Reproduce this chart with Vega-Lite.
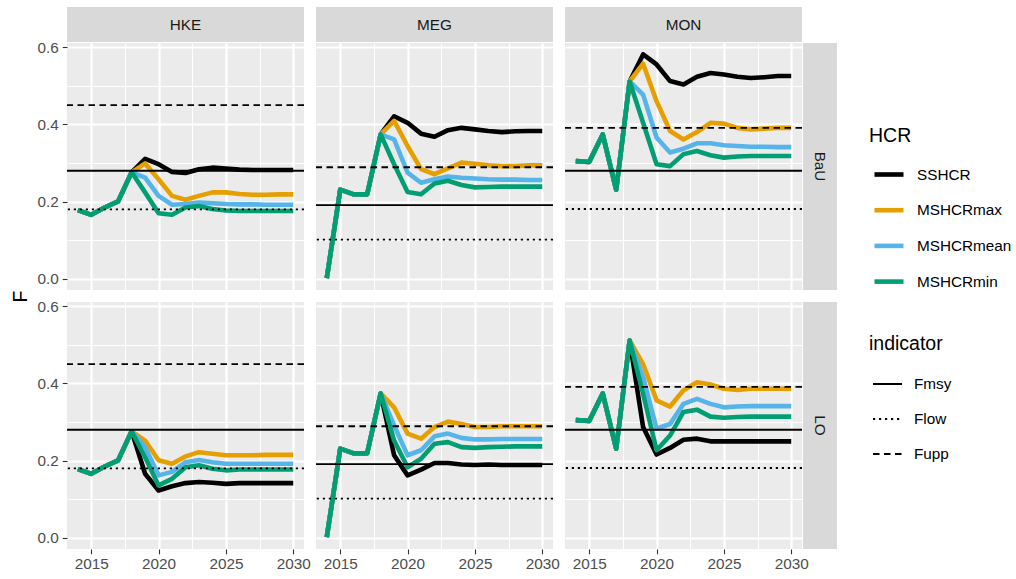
{
  "$schema": "https://vega.github.io/schema/vega-lite/v6.json",
  "background": "white",
  "padding": {"left": 10, "top": 7, "right": 5, "bottom": 2},
  "config": {
    "font": "Liberation Sans",
    "view": {"stroke": null},
    "legend": {
      "titleFontSize": 19.5, "titleFontWeight": "normal", "titleColor": "black", "titleFont": "Liberation Sans",
      "labelFontSize": 15.3, "labelColor": "black", "labelFont": "Liberation Sans",
      "labelOffset": 11, "titlePadding": 11, "symbolOffset": 3, "padding": 0
    }
  },
  "datasets": {
    "refs": [
      {"stock": "HKE", "indicator": "Fmsy", "F": 0.28},
      {"stock": "HKE", "indicator": "Flow", "F": 0.18},
      {"stock": "HKE", "indicator": "Fupp", "F": 0.45},
      {"stock": "MEG", "indicator": "Fmsy", "F": 0.191},
      {"stock": "MEG", "indicator": "Flow", "F": 0.102},
      {"stock": "MEG", "indicator": "Fupp", "F": 0.289},
      {"stock": "MON", "indicator": "Fmsy", "F": 0.28},
      {"stock": "MON", "indicator": "Flow", "F": 0.181},
      {"stock": "MON", "indicator": "Fupp", "F": 0.391}
    ],
    "series": [
      {"stock":"HKE","scen":"BaU","HCR":"SSHCR","year":2014,"F":0.178},
      {"stock":"HKE","scen":"BaU","HCR":"SSHCR","year":2015,"F":0.166},
      {"stock":"HKE","scen":"BaU","HCR":"SSHCR","year":2016,"F":0.185},
      {"stock":"HKE","scen":"BaU","HCR":"SSHCR","year":2017,"F":0.201},
      {"stock":"HKE","scen":"BaU","HCR":"SSHCR","year":2018,"F":0.276},
      {"stock":"HKE","scen":"BaU","HCR":"SSHCR","year":2019,"F":0.311},
      {"stock":"HKE","scen":"BaU","HCR":"SSHCR","year":2020,"F":0.297},
      {"stock":"HKE","scen":"BaU","HCR":"SSHCR","year":2021,"F":0.277},
      {"stock":"HKE","scen":"BaU","HCR":"SSHCR","year":2022,"F":0.274},
      {"stock":"HKE","scen":"BaU","HCR":"SSHCR","year":2023,"F":0.284},
      {"stock":"HKE","scen":"BaU","HCR":"SSHCR","year":2024,"F":0.288},
      {"stock":"HKE","scen":"BaU","HCR":"SSHCR","year":2025,"F":0.286},
      {"stock":"HKE","scen":"BaU","HCR":"SSHCR","year":2026,"F":0.283},
      {"stock":"HKE","scen":"BaU","HCR":"SSHCR","year":2027,"F":0.282},
      {"stock":"HKE","scen":"BaU","HCR":"SSHCR","year":2028,"F":0.282},
      {"stock":"HKE","scen":"BaU","HCR":"SSHCR","year":2029,"F":0.282},
      {"stock":"HKE","scen":"BaU","HCR":"SSHCR","year":2030,"F":0.282},
      {"stock":"HKE","scen":"BaU","HCR":"MSHCRmax","year":2014,"F":0.178},
      {"stock":"HKE","scen":"BaU","HCR":"MSHCRmax","year":2015,"F":0.166},
      {"stock":"HKE","scen":"BaU","HCR":"MSHCRmax","year":2016,"F":0.185},
      {"stock":"HKE","scen":"BaU","HCR":"MSHCRmax","year":2017,"F":0.201},
      {"stock":"HKE","scen":"BaU","HCR":"MSHCRmax","year":2018,"F":0.276},
      {"stock":"HKE","scen":"BaU","HCR":"MSHCRmax","year":2019,"F":0.299},
      {"stock":"HKE","scen":"BaU","HCR":"MSHCRmax","year":2020,"F":0.258},
      {"stock":"HKE","scen":"BaU","HCR":"MSHCRmax","year":2021,"F":0.215},
      {"stock":"HKE","scen":"BaU","HCR":"MSHCRmax","year":2022,"F":0.205},
      {"stock":"HKE","scen":"BaU","HCR":"MSHCRmax","year":2023,"F":0.215},
      {"stock":"HKE","scen":"BaU","HCR":"MSHCRmax","year":2024,"F":0.224},
      {"stock":"HKE","scen":"BaU","HCR":"MSHCRmax","year":2025,"F":0.224},
      {"stock":"HKE","scen":"BaU","HCR":"MSHCRmax","year":2026,"F":0.220},
      {"stock":"HKE","scen":"BaU","HCR":"MSHCRmax","year":2027,"F":0.218},
      {"stock":"HKE","scen":"BaU","HCR":"MSHCRmax","year":2028,"F":0.218},
      {"stock":"HKE","scen":"BaU","HCR":"MSHCRmax","year":2029,"F":0.219},
      {"stock":"HKE","scen":"BaU","HCR":"MSHCRmax","year":2030,"F":0.219},
      {"stock":"HKE","scen":"BaU","HCR":"MSHCRmean","year":2014,"F":0.178},
      {"stock":"HKE","scen":"BaU","HCR":"MSHCRmean","year":2015,"F":0.166},
      {"stock":"HKE","scen":"BaU","HCR":"MSHCRmean","year":2016,"F":0.185},
      {"stock":"HKE","scen":"BaU","HCR":"MSHCRmean","year":2017,"F":0.201},
      {"stock":"HKE","scen":"BaU","HCR":"MSHCRmean","year":2018,"F":0.276},
      {"stock":"HKE","scen":"BaU","HCR":"MSHCRmean","year":2019,"F":0.262},
      {"stock":"HKE","scen":"BaU","HCR":"MSHCRmean","year":2020,"F":0.215},
      {"stock":"HKE","scen":"BaU","HCR":"MSHCRmean","year":2021,"F":0.192},
      {"stock":"HKE","scen":"BaU","HCR":"MSHCRmean","year":2022,"F":0.194},
      {"stock":"HKE","scen":"BaU","HCR":"MSHCRmean","year":2023,"F":0.198},
      {"stock":"HKE","scen":"BaU","HCR":"MSHCRmean","year":2024,"F":0.196},
      {"stock":"HKE","scen":"BaU","HCR":"MSHCRmean","year":2025,"F":0.194},
      {"stock":"HKE","scen":"BaU","HCR":"MSHCRmean","year":2026,"F":0.193},
      {"stock":"HKE","scen":"BaU","HCR":"MSHCRmean","year":2027,"F":0.193},
      {"stock":"HKE","scen":"BaU","HCR":"MSHCRmean","year":2028,"F":0.192},
      {"stock":"HKE","scen":"BaU","HCR":"MSHCRmean","year":2029,"F":0.192},
      {"stock":"HKE","scen":"BaU","HCR":"MSHCRmean","year":2030,"F":0.192},
      {"stock":"HKE","scen":"BaU","HCR":"MSHCRmin","year":2014,"F":0.178},
      {"stock":"HKE","scen":"BaU","HCR":"MSHCRmin","year":2015,"F":0.166},
      {"stock":"HKE","scen":"BaU","HCR":"MSHCRmin","year":2016,"F":0.185},
      {"stock":"HKE","scen":"BaU","HCR":"MSHCRmin","year":2017,"F":0.201},
      {"stock":"HKE","scen":"BaU","HCR":"MSHCRmin","year":2018,"F":0.276},
      {"stock":"HKE","scen":"BaU","HCR":"MSHCRmin","year":2019,"F":0.224},
      {"stock":"HKE","scen":"BaU","HCR":"MSHCRmin","year":2020,"F":0.170},
      {"stock":"HKE","scen":"BaU","HCR":"MSHCRmin","year":2021,"F":0.166},
      {"stock":"HKE","scen":"BaU","HCR":"MSHCRmin","year":2022,"F":0.185},
      {"stock":"HKE","scen":"BaU","HCR":"MSHCRmin","year":2023,"F":0.189},
      {"stock":"HKE","scen":"BaU","HCR":"MSHCRmin","year":2024,"F":0.181},
      {"stock":"HKE","scen":"BaU","HCR":"MSHCRmin","year":2025,"F":0.177},
      {"stock":"HKE","scen":"BaU","HCR":"MSHCRmin","year":2026,"F":0.176},
      {"stock":"HKE","scen":"BaU","HCR":"MSHCRmin","year":2027,"F":0.176},
      {"stock":"HKE","scen":"BaU","HCR":"MSHCRmin","year":2028,"F":0.176},
      {"stock":"HKE","scen":"BaU","HCR":"MSHCRmin","year":2029,"F":0.176},
      {"stock":"HKE","scen":"BaU","HCR":"MSHCRmin","year":2030,"F":0.176},

      {"stock":"MEG","scen":"BaU","HCR":"SSHCR","year":2014,"F":0.002},
      {"stock":"MEG","scen":"BaU","HCR":"SSHCR","year":2015,"F":0.231},
      {"stock":"MEG","scen":"BaU","HCR":"SSHCR","year":2016,"F":0.219},
      {"stock":"MEG","scen":"BaU","HCR":"SSHCR","year":2017,"F":0.219},
      {"stock":"MEG","scen":"BaU","HCR":"SSHCR","year":2018,"F":0.374},
      {"stock":"MEG","scen":"BaU","HCR":"SSHCR","year":2019,"F":0.421},
      {"stock":"MEG","scen":"BaU","HCR":"SSHCR","year":2020,"F":0.404},
      {"stock":"MEG","scen":"BaU","HCR":"SSHCR","year":2021,"F":0.376},
      {"stock":"MEG","scen":"BaU","HCR":"SSHCR","year":2022,"F":0.368},
      {"stock":"MEG","scen":"BaU","HCR":"SSHCR","year":2023,"F":0.385},
      {"stock":"MEG","scen":"BaU","HCR":"SSHCR","year":2024,"F":0.391},
      {"stock":"MEG","scen":"BaU","HCR":"SSHCR","year":2025,"F":0.387},
      {"stock":"MEG","scen":"BaU","HCR":"SSHCR","year":2026,"F":0.383},
      {"stock":"MEG","scen":"BaU","HCR":"SSHCR","year":2027,"F":0.380},
      {"stock":"MEG","scen":"BaU","HCR":"SSHCR","year":2028,"F":0.382},
      {"stock":"MEG","scen":"BaU","HCR":"SSHCR","year":2029,"F":0.383},
      {"stock":"MEG","scen":"BaU","HCR":"SSHCR","year":2030,"F":0.383},
      {"stock":"MEG","scen":"BaU","HCR":"MSHCRmax","year":2014,"F":0.002},
      {"stock":"MEG","scen":"BaU","HCR":"MSHCRmax","year":2015,"F":0.231},
      {"stock":"MEG","scen":"BaU","HCR":"MSHCRmax","year":2016,"F":0.219},
      {"stock":"MEG","scen":"BaU","HCR":"MSHCRmax","year":2017,"F":0.219},
      {"stock":"MEG","scen":"BaU","HCR":"MSHCRmax","year":2018,"F":0.374},
      {"stock":"MEG","scen":"BaU","HCR":"MSHCRmax","year":2019,"F":0.409},
      {"stock":"MEG","scen":"BaU","HCR":"MSHCRmax","year":2020,"F":0.344},
      {"stock":"MEG","scen":"BaU","HCR":"MSHCRmax","year":2021,"F":0.284},
      {"stock":"MEG","scen":"BaU","HCR":"MSHCRmax","year":2022,"F":0.271},
      {"stock":"MEG","scen":"BaU","HCR":"MSHCRmax","year":2023,"F":0.286},
      {"stock":"MEG","scen":"BaU","HCR":"MSHCRmax","year":2024,"F":0.301},
      {"stock":"MEG","scen":"BaU","HCR":"MSHCRmax","year":2025,"F":0.298},
      {"stock":"MEG","scen":"BaU","HCR":"MSHCRmax","year":2026,"F":0.294},
      {"stock":"MEG","scen":"BaU","HCR":"MSHCRmax","year":2027,"F":0.292},
      {"stock":"MEG","scen":"BaU","HCR":"MSHCRmax","year":2028,"F":0.292},
      {"stock":"MEG","scen":"BaU","HCR":"MSHCRmax","year":2029,"F":0.294},
      {"stock":"MEG","scen":"BaU","HCR":"MSHCRmax","year":2030,"F":0.294},
      {"stock":"MEG","scen":"BaU","HCR":"MSHCRmean","year":2014,"F":0.002},
      {"stock":"MEG","scen":"BaU","HCR":"MSHCRmean","year":2015,"F":0.231},
      {"stock":"MEG","scen":"BaU","HCR":"MSHCRmean","year":2016,"F":0.219},
      {"stock":"MEG","scen":"BaU","HCR":"MSHCRmean","year":2017,"F":0.219},
      {"stock":"MEG","scen":"BaU","HCR":"MSHCRmean","year":2018,"F":0.374},
      {"stock":"MEG","scen":"BaU","HCR":"MSHCRmean","year":2019,"F":0.361},
      {"stock":"MEG","scen":"BaU","HCR":"MSHCRmean","year":2020,"F":0.275},
      {"stock":"MEG","scen":"BaU","HCR":"MSHCRmean","year":2021,"F":0.249},
      {"stock":"MEG","scen":"BaU","HCR":"MSHCRmean","year":2022,"F":0.258},
      {"stock":"MEG","scen":"BaU","HCR":"MSHCRmean","year":2023,"F":0.265},
      {"stock":"MEG","scen":"BaU","HCR":"MSHCRmean","year":2024,"F":0.262},
      {"stock":"MEG","scen":"BaU","HCR":"MSHCRmean","year":2025,"F":0.260},
      {"stock":"MEG","scen":"BaU","HCR":"MSHCRmean","year":2026,"F":0.258},
      {"stock":"MEG","scen":"BaU","HCR":"MSHCRmean","year":2027,"F":0.257},
      {"stock":"MEG","scen":"BaU","HCR":"MSHCRmean","year":2028,"F":0.257},
      {"stock":"MEG","scen":"BaU","HCR":"MSHCRmean","year":2029,"F":0.256},
      {"stock":"MEG","scen":"BaU","HCR":"MSHCRmean","year":2030,"F":0.256},
      {"stock":"MEG","scen":"BaU","HCR":"MSHCRmin","year":2014,"F":0.002},
      {"stock":"MEG","scen":"BaU","HCR":"MSHCRmin","year":2015,"F":0.231},
      {"stock":"MEG","scen":"BaU","HCR":"MSHCRmin","year":2016,"F":0.219},
      {"stock":"MEG","scen":"BaU","HCR":"MSHCRmin","year":2017,"F":0.219},
      {"stock":"MEG","scen":"BaU","HCR":"MSHCRmin","year":2018,"F":0.374},
      {"stock":"MEG","scen":"BaU","HCR":"MSHCRmin","year":2019,"F":0.297},
      {"stock":"MEG","scen":"BaU","HCR":"MSHCRmin","year":2020,"F":0.225},
      {"stock":"MEG","scen":"BaU","HCR":"MSHCRmin","year":2021,"F":0.219},
      {"stock":"MEG","scen":"BaU","HCR":"MSHCRmin","year":2022,"F":0.247},
      {"stock":"MEG","scen":"BaU","HCR":"MSHCRmin","year":2023,"F":0.254},
      {"stock":"MEG","scen":"BaU","HCR":"MSHCRmin","year":2024,"F":0.243},
      {"stock":"MEG","scen":"BaU","HCR":"MSHCRmin","year":2025,"F":0.237},
      {"stock":"MEG","scen":"BaU","HCR":"MSHCRmin","year":2026,"F":0.238},
      {"stock":"MEG","scen":"BaU","HCR":"MSHCRmin","year":2027,"F":0.239},
      {"stock":"MEG","scen":"BaU","HCR":"MSHCRmin","year":2028,"F":0.239},
      {"stock":"MEG","scen":"BaU","HCR":"MSHCRmin","year":2029,"F":0.239},
      {"stock":"MEG","scen":"BaU","HCR":"MSHCRmin","year":2030,"F":0.239},

      {"stock":"MON","scen":"BaU","HCR":"SSHCR","year":2014,"F":0.305},
      {"stock":"MON","scen":"BaU","HCR":"SSHCR","year":2015,"F":0.303},
      {"stock":"MON","scen":"BaU","HCR":"SSHCR","year":2016,"F":0.374},
      {"stock":"MON","scen":"BaU","HCR":"SSHCR","year":2017,"F":0.231},
      {"stock":"MON","scen":"BaU","HCR":"SSHCR","year":2018,"F":0.511},
      {"stock":"MON","scen":"BaU","HCR":"SSHCR","year":2019,"F":0.581},
      {"stock":"MON","scen":"BaU","HCR":"SSHCR","year":2020,"F":0.555},
      {"stock":"MON","scen":"BaU","HCR":"SSHCR","year":2021,"F":0.512},
      {"stock":"MON","scen":"BaU","HCR":"SSHCR","year":2022,"F":0.503},
      {"stock":"MON","scen":"BaU","HCR":"SSHCR","year":2023,"F":0.523},
      {"stock":"MON","scen":"BaU","HCR":"SSHCR","year":2024,"F":0.533},
      {"stock":"MON","scen":"BaU","HCR":"SSHCR","year":2025,"F":0.529},
      {"stock":"MON","scen":"BaU","HCR":"SSHCR","year":2026,"F":0.523},
      {"stock":"MON","scen":"BaU","HCR":"SSHCR","year":2027,"F":0.520},
      {"stock":"MON","scen":"BaU","HCR":"SSHCR","year":2028,"F":0.522},
      {"stock":"MON","scen":"BaU","HCR":"SSHCR","year":2029,"F":0.525},
      {"stock":"MON","scen":"BaU","HCR":"SSHCR","year":2030,"F":0.525},
      {"stock":"MON","scen":"BaU","HCR":"MSHCRmax","year":2014,"F":0.305},
      {"stock":"MON","scen":"BaU","HCR":"MSHCRmax","year":2015,"F":0.303},
      {"stock":"MON","scen":"BaU","HCR":"MSHCRmax","year":2016,"F":0.374},
      {"stock":"MON","scen":"BaU","HCR":"MSHCRmax","year":2017,"F":0.231},
      {"stock":"MON","scen":"BaU","HCR":"MSHCRmax","year":2018,"F":0.511},
      {"stock":"MON","scen":"BaU","HCR":"MSHCRmax","year":2019,"F":0.557},
      {"stock":"MON","scen":"BaU","HCR":"MSHCRmax","year":2020,"F":0.460},
      {"stock":"MON","scen":"BaU","HCR":"MSHCRmax","year":2021,"F":0.383},
      {"stock":"MON","scen":"BaU","HCR":"MSHCRmax","year":2022,"F":0.361},
      {"stock":"MON","scen":"BaU","HCR":"MSHCRmax","year":2023,"F":0.380},
      {"stock":"MON","scen":"BaU","HCR":"MSHCRmax","year":2024,"F":0.404},
      {"stock":"MON","scen":"BaU","HCR":"MSHCRmax","year":2025,"F":0.402},
      {"stock":"MON","scen":"BaU","HCR":"MSHCRmax","year":2026,"F":0.391},
      {"stock":"MON","scen":"BaU","HCR":"MSHCRmax","year":2027,"F":0.387},
      {"stock":"MON","scen":"BaU","HCR":"MSHCRmax","year":2028,"F":0.389},
      {"stock":"MON","scen":"BaU","HCR":"MSHCRmax","year":2029,"F":0.391},
      {"stock":"MON","scen":"BaU","HCR":"MSHCRmax","year":2030,"F":0.391},
      {"stock":"MON","scen":"BaU","HCR":"MSHCRmean","year":2014,"F":0.305},
      {"stock":"MON","scen":"BaU","HCR":"MSHCRmean","year":2015,"F":0.303},
      {"stock":"MON","scen":"BaU","HCR":"MSHCRmean","year":2016,"F":0.374},
      {"stock":"MON","scen":"BaU","HCR":"MSHCRmean","year":2017,"F":0.231},
      {"stock":"MON","scen":"BaU","HCR":"MSHCRmean","year":2018,"F":0.511},
      {"stock":"MON","scen":"BaU","HCR":"MSHCRmean","year":2019,"F":0.477},
      {"stock":"MON","scen":"BaU","HCR":"MSHCRmean","year":2020,"F":0.366},
      {"stock":"MON","scen":"BaU","HCR":"MSHCRmean","year":2021,"F":0.327},
      {"stock":"MON","scen":"BaU","HCR":"MSHCRmean","year":2022,"F":0.337},
      {"stock":"MON","scen":"BaU","HCR":"MSHCRmean","year":2023,"F":0.351},
      {"stock":"MON","scen":"BaU","HCR":"MSHCRmean","year":2024,"F":0.351},
      {"stock":"MON","scen":"BaU","HCR":"MSHCRmean","year":2025,"F":0.346},
      {"stock":"MON","scen":"BaU","HCR":"MSHCRmean","year":2026,"F":0.344},
      {"stock":"MON","scen":"BaU","HCR":"MSHCRmean","year":2027,"F":0.342},
      {"stock":"MON","scen":"BaU","HCR":"MSHCRmean","year":2028,"F":0.342},
      {"stock":"MON","scen":"BaU","HCR":"MSHCRmean","year":2029,"F":0.341},
      {"stock":"MON","scen":"BaU","HCR":"MSHCRmean","year":2030,"F":0.341},
      {"stock":"MON","scen":"BaU","HCR":"MSHCRmin","year":2014,"F":0.305},
      {"stock":"MON","scen":"BaU","HCR":"MSHCRmin","year":2015,"F":0.303},
      {"stock":"MON","scen":"BaU","HCR":"MSHCRmin","year":2016,"F":0.374},
      {"stock":"MON","scen":"BaU","HCR":"MSHCRmin","year":2017,"F":0.231},
      {"stock":"MON","scen":"BaU","HCR":"MSHCRmin","year":2018,"F":0.511},
      {"stock":"MON","scen":"BaU","HCR":"MSHCRmin","year":2019,"F":0.404},
      {"stock":"MON","scen":"BaU","HCR":"MSHCRmin","year":2020,"F":0.297},
      {"stock":"MON","scen":"BaU","HCR":"MSHCRmin","year":2021,"F":0.292},
      {"stock":"MON","scen":"BaU","HCR":"MSHCRmin","year":2022,"F":0.323},
      {"stock":"MON","scen":"BaU","HCR":"MSHCRmin","year":2023,"F":0.331},
      {"stock":"MON","scen":"BaU","HCR":"MSHCRmin","year":2024,"F":0.320},
      {"stock":"MON","scen":"BaU","HCR":"MSHCRmin","year":2025,"F":0.314},
      {"stock":"MON","scen":"BaU","HCR":"MSHCRmin","year":2026,"F":0.317},
      {"stock":"MON","scen":"BaU","HCR":"MSHCRmin","year":2027,"F":0.318},
      {"stock":"MON","scen":"BaU","HCR":"MSHCRmin","year":2028,"F":0.318},
      {"stock":"MON","scen":"BaU","HCR":"MSHCRmin","year":2029,"F":0.318},
      {"stock":"MON","scen":"BaU","HCR":"MSHCRmin","year":2030,"F":0.318},

      {"stock":"HKE","scen":"LO","HCR":"SSHCR","year":2014,"F":0.178},
      {"stock":"HKE","scen":"LO","HCR":"SSHCR","year":2015,"F":0.166},
      {"stock":"HKE","scen":"LO","HCR":"SSHCR","year":2016,"F":0.185},
      {"stock":"HKE","scen":"LO","HCR":"SSHCR","year":2017,"F":0.201},
      {"stock":"HKE","scen":"LO","HCR":"SSHCR","year":2018,"F":0.276},
      {"stock":"HKE","scen":"LO","HCR":"SSHCR","year":2019,"F":0.166},
      {"stock":"HKE","scen":"LO","HCR":"SSHCR","year":2020,"F":0.123},
      {"stock":"HKE","scen":"LO","HCR":"SSHCR","year":2021,"F":0.134},
      {"stock":"HKE","scen":"LO","HCR":"SSHCR","year":2022,"F":0.142},
      {"stock":"HKE","scen":"LO","HCR":"SSHCR","year":2023,"F":0.145},
      {"stock":"HKE","scen":"LO","HCR":"SSHCR","year":2024,"F":0.143},
      {"stock":"HKE","scen":"LO","HCR":"SSHCR","year":2025,"F":0.140},
      {"stock":"HKE","scen":"LO","HCR":"SSHCR","year":2026,"F":0.142},
      {"stock":"HKE","scen":"LO","HCR":"SSHCR","year":2027,"F":0.142},
      {"stock":"HKE","scen":"LO","HCR":"SSHCR","year":2028,"F":0.142},
      {"stock":"HKE","scen":"LO","HCR":"SSHCR","year":2029,"F":0.142},
      {"stock":"HKE","scen":"LO","HCR":"SSHCR","year":2030,"F":0.142},
      {"stock":"HKE","scen":"LO","HCR":"MSHCRmax","year":2014,"F":0.178},
      {"stock":"HKE","scen":"LO","HCR":"MSHCRmax","year":2015,"F":0.166},
      {"stock":"HKE","scen":"LO","HCR":"MSHCRmax","year":2016,"F":0.185},
      {"stock":"HKE","scen":"LO","HCR":"MSHCRmax","year":2017,"F":0.201},
      {"stock":"HKE","scen":"LO","HCR":"MSHCRmax","year":2018,"F":0.276},
      {"stock":"HKE","scen":"LO","HCR":"MSHCRmax","year":2019,"F":0.252},
      {"stock":"HKE","scen":"LO","HCR":"MSHCRmax","year":2020,"F":0.201},
      {"stock":"HKE","scen":"LO","HCR":"MSHCRmax","year":2021,"F":0.192},
      {"stock":"HKE","scen":"LO","HCR":"MSHCRmax","year":2022,"F":0.211},
      {"stock":"HKE","scen":"LO","HCR":"MSHCRmax","year":2023,"F":0.222},
      {"stock":"HKE","scen":"LO","HCR":"MSHCRmax","year":2024,"F":0.218},
      {"stock":"HKE","scen":"LO","HCR":"MSHCRmax","year":2025,"F":0.214},
      {"stock":"HKE","scen":"LO","HCR":"MSHCRmax","year":2026,"F":0.214},
      {"stock":"HKE","scen":"LO","HCR":"MSHCRmax","year":2027,"F":0.214},
      {"stock":"HKE","scen":"LO","HCR":"MSHCRmax","year":2028,"F":0.215},
      {"stock":"HKE","scen":"LO","HCR":"MSHCRmax","year":2029,"F":0.215},
      {"stock":"HKE","scen":"LO","HCR":"MSHCRmax","year":2030,"F":0.215},
      {"stock":"HKE","scen":"LO","HCR":"MSHCRmean","year":2014,"F":0.178},
      {"stock":"HKE","scen":"LO","HCR":"MSHCRmean","year":2015,"F":0.166},
      {"stock":"HKE","scen":"LO","HCR":"MSHCRmean","year":2016,"F":0.185},
      {"stock":"HKE","scen":"LO","HCR":"MSHCRmean","year":2017,"F":0.201},
      {"stock":"HKE","scen":"LO","HCR":"MSHCRmean","year":2018,"F":0.276},
      {"stock":"HKE","scen":"LO","HCR":"MSHCRmean","year":2019,"F":0.235},
      {"stock":"HKE","scen":"LO","HCR":"MSHCRmean","year":2020,"F":0.162},
      {"stock":"HKE","scen":"LO","HCR":"MSHCRmean","year":2021,"F":0.171},
      {"stock":"HKE","scen":"LO","HCR":"MSHCRmean","year":2022,"F":0.196},
      {"stock":"HKE","scen":"LO","HCR":"MSHCRmean","year":2023,"F":0.202},
      {"stock":"HKE","scen":"LO","HCR":"MSHCRmean","year":2024,"F":0.196},
      {"stock":"HKE","scen":"LO","HCR":"MSHCRmean","year":2025,"F":0.192},
      {"stock":"HKE","scen":"LO","HCR":"MSHCRmean","year":2026,"F":0.192},
      {"stock":"HKE","scen":"LO","HCR":"MSHCRmean","year":2027,"F":0.192},
      {"stock":"HKE","scen":"LO","HCR":"MSHCRmean","year":2028,"F":0.192},
      {"stock":"HKE","scen":"LO","HCR":"MSHCRmean","year":2029,"F":0.192},
      {"stock":"HKE","scen":"LO","HCR":"MSHCRmean","year":2030,"F":0.192},
      {"stock":"HKE","scen":"LO","HCR":"MSHCRmin","year":2014,"F":0.178},
      {"stock":"HKE","scen":"LO","HCR":"MSHCRmin","year":2015,"F":0.166},
      {"stock":"HKE","scen":"LO","HCR":"MSHCRmin","year":2016,"F":0.185},
      {"stock":"HKE","scen":"LO","HCR":"MSHCRmin","year":2017,"F":0.201},
      {"stock":"HKE","scen":"LO","HCR":"MSHCRmin","year":2018,"F":0.276},
      {"stock":"HKE","scen":"LO","HCR":"MSHCRmin","year":2019,"F":0.209},
      {"stock":"HKE","scen":"LO","HCR":"MSHCRmin","year":2020,"F":0.136},
      {"stock":"HKE","scen":"LO","HCR":"MSHCRmin","year":2021,"F":0.153},
      {"stock":"HKE","scen":"LO","HCR":"MSHCRmin","year":2022,"F":0.183},
      {"stock":"HKE","scen":"LO","HCR":"MSHCRmin","year":2023,"F":0.188},
      {"stock":"HKE","scen":"LO","HCR":"MSHCRmin","year":2024,"F":0.179},
      {"stock":"HKE","scen":"LO","HCR":"MSHCRmin","year":2025,"F":0.175},
      {"stock":"HKE","scen":"LO","HCR":"MSHCRmin","year":2026,"F":0.177},
      {"stock":"HKE","scen":"LO","HCR":"MSHCRmin","year":2027,"F":0.177},
      {"stock":"HKE","scen":"LO","HCR":"MSHCRmin","year":2028,"F":0.177},
      {"stock":"HKE","scen":"LO","HCR":"MSHCRmin","year":2029,"F":0.177},
      {"stock":"HKE","scen":"LO","HCR":"MSHCRmin","year":2030,"F":0.177},

      {"stock":"MEG","scen":"LO","HCR":"SSHCR","year":2014,"F":0.002},
      {"stock":"MEG","scen":"LO","HCR":"SSHCR","year":2015,"F":0.231},
      {"stock":"MEG","scen":"LO","HCR":"SSHCR","year":2016,"F":0.219},
      {"stock":"MEG","scen":"LO","HCR":"SSHCR","year":2017,"F":0.219},
      {"stock":"MEG","scen":"LO","HCR":"SSHCR","year":2018,"F":0.374},
      {"stock":"MEG","scen":"LO","HCR":"SSHCR","year":2019,"F":0.214},
      {"stock":"MEG","scen":"LO","HCR":"SSHCR","year":2020,"F":0.162},
      {"stock":"MEG","scen":"LO","HCR":"SSHCR","year":2021,"F":0.177},
      {"stock":"MEG","scen":"LO","HCR":"SSHCR","year":2022,"F":0.194},
      {"stock":"MEG","scen":"LO","HCR":"SSHCR","year":2023,"F":0.194},
      {"stock":"MEG","scen":"LO","HCR":"SSHCR","year":2024,"F":0.190},
      {"stock":"MEG","scen":"LO","HCR":"SSHCR","year":2025,"F":0.189},
      {"stock":"MEG","scen":"LO","HCR":"SSHCR","year":2026,"F":0.190},
      {"stock":"MEG","scen":"LO","HCR":"SSHCR","year":2027,"F":0.189},
      {"stock":"MEG","scen":"LO","HCR":"SSHCR","year":2028,"F":0.189},
      {"stock":"MEG","scen":"LO","HCR":"SSHCR","year":2029,"F":0.189},
      {"stock":"MEG","scen":"LO","HCR":"SSHCR","year":2030,"F":0.189},
      {"stock":"MEG","scen":"LO","HCR":"MSHCRmax","year":2014,"F":0.002},
      {"stock":"MEG","scen":"LO","HCR":"MSHCRmax","year":2015,"F":0.231},
      {"stock":"MEG","scen":"LO","HCR":"MSHCRmax","year":2016,"F":0.219},
      {"stock":"MEG","scen":"LO","HCR":"MSHCRmax","year":2017,"F":0.219},
      {"stock":"MEG","scen":"LO","HCR":"MSHCRmax","year":2018,"F":0.374},
      {"stock":"MEG","scen":"LO","HCR":"MSHCRmax","year":2019,"F":0.338},
      {"stock":"MEG","scen":"LO","HCR":"MSHCRmax","year":2020,"F":0.270},
      {"stock":"MEG","scen":"LO","HCR":"MSHCRmax","year":2021,"F":0.257},
      {"stock":"MEG","scen":"LO","HCR":"MSHCRmax","year":2022,"F":0.287},
      {"stock":"MEG","scen":"LO","HCR":"MSHCRmax","year":2023,"F":0.301},
      {"stock":"MEG","scen":"LO","HCR":"MSHCRmax","year":2024,"F":0.295},
      {"stock":"MEG","scen":"LO","HCR":"MSHCRmax","year":2025,"F":0.287},
      {"stock":"MEG","scen":"LO","HCR":"MSHCRmax","year":2026,"F":0.287},
      {"stock":"MEG","scen":"LO","HCR":"MSHCRmax","year":2027,"F":0.289},
      {"stock":"MEG","scen":"LO","HCR":"MSHCRmax","year":2028,"F":0.289},
      {"stock":"MEG","scen":"LO","HCR":"MSHCRmax","year":2029,"F":0.289},
      {"stock":"MEG","scen":"LO","HCR":"MSHCRmax","year":2030,"F":0.289},
      {"stock":"MEG","scen":"LO","HCR":"MSHCRmean","year":2014,"F":0.002},
      {"stock":"MEG","scen":"LO","HCR":"MSHCRmean","year":2015,"F":0.231},
      {"stock":"MEG","scen":"LO","HCR":"MSHCRmean","year":2016,"F":0.219},
      {"stock":"MEG","scen":"LO","HCR":"MSHCRmean","year":2017,"F":0.219},
      {"stock":"MEG","scen":"LO","HCR":"MSHCRmean","year":2018,"F":0.374},
      {"stock":"MEG","scen":"LO","HCR":"MSHCRmean","year":2019,"F":0.291},
      {"stock":"MEG","scen":"LO","HCR":"MSHCRmean","year":2020,"F":0.214},
      {"stock":"MEG","scen":"LO","HCR":"MSHCRmean","year":2021,"F":0.227},
      {"stock":"MEG","scen":"LO","HCR":"MSHCRmean","year":2022,"F":0.263},
      {"stock":"MEG","scen":"LO","HCR":"MSHCRmean","year":2023,"F":0.270},
      {"stock":"MEG","scen":"LO","HCR":"MSHCRmean","year":2024,"F":0.259},
      {"stock":"MEG","scen":"LO","HCR":"MSHCRmean","year":2025,"F":0.255},
      {"stock":"MEG","scen":"LO","HCR":"MSHCRmean","year":2026,"F":0.255},
      {"stock":"MEG","scen":"LO","HCR":"MSHCRmean","year":2027,"F":0.256},
      {"stock":"MEG","scen":"LO","HCR":"MSHCRmean","year":2028,"F":0.256},
      {"stock":"MEG","scen":"LO","HCR":"MSHCRmean","year":2029,"F":0.256},
      {"stock":"MEG","scen":"LO","HCR":"MSHCRmean","year":2030,"F":0.256},
      {"stock":"MEG","scen":"LO","HCR":"MSHCRmin","year":2014,"F":0.002},
      {"stock":"MEG","scen":"LO","HCR":"MSHCRmin","year":2015,"F":0.231},
      {"stock":"MEG","scen":"LO","HCR":"MSHCRmin","year":2016,"F":0.219},
      {"stock":"MEG","scen":"LO","HCR":"MSHCRmin","year":2017,"F":0.219},
      {"stock":"MEG","scen":"LO","HCR":"MSHCRmin","year":2018,"F":0.374},
      {"stock":"MEG","scen":"LO","HCR":"MSHCRmin","year":2019,"F":0.252},
      {"stock":"MEG","scen":"LO","HCR":"MSHCRmin","year":2020,"F":0.183},
      {"stock":"MEG","scen":"LO","HCR":"MSHCRmin","year":2021,"F":0.205},
      {"stock":"MEG","scen":"LO","HCR":"MSHCRmin","year":2022,"F":0.244},
      {"stock":"MEG","scen":"LO","HCR":"MSHCRmin","year":2023,"F":0.248},
      {"stock":"MEG","scen":"LO","HCR":"MSHCRmin","year":2024,"F":0.235},
      {"stock":"MEG","scen":"LO","HCR":"MSHCRmin","year":2025,"F":0.233},
      {"stock":"MEG","scen":"LO","HCR":"MSHCRmin","year":2026,"F":0.235},
      {"stock":"MEG","scen":"LO","HCR":"MSHCRmin","year":2027,"F":0.236},
      {"stock":"MEG","scen":"LO","HCR":"MSHCRmin","year":2028,"F":0.237},
      {"stock":"MEG","scen":"LO","HCR":"MSHCRmin","year":2029,"F":0.237},
      {"stock":"MEG","scen":"LO","HCR":"MSHCRmin","year":2030,"F":0.237},

      {"stock":"MON","scen":"LO","HCR":"SSHCR","year":2014,"F":0.305},
      {"stock":"MON","scen":"LO","HCR":"SSHCR","year":2015,"F":0.303},
      {"stock":"MON","scen":"LO","HCR":"SSHCR","year":2016,"F":0.374},
      {"stock":"MON","scen":"LO","HCR":"SSHCR","year":2017,"F":0.231},
      {"stock":"MON","scen":"LO","HCR":"SSHCR","year":2018,"F":0.511},
      {"stock":"MON","scen":"LO","HCR":"SSHCR","year":2019,"F":0.287},
      {"stock":"MON","scen":"LO","HCR":"SSHCR","year":2020,"F":0.216},
      {"stock":"MON","scen":"LO","HCR":"SSHCR","year":2021,"F":0.233},
      {"stock":"MON","scen":"LO","HCR":"SSHCR","year":2022,"F":0.254},
      {"stock":"MON","scen":"LO","HCR":"SSHCR","year":2023,"F":0.257},
      {"stock":"MON","scen":"LO","HCR":"SSHCR","year":2024,"F":0.250},
      {"stock":"MON","scen":"LO","HCR":"SSHCR","year":2025,"F":0.250},
      {"stock":"MON","scen":"LO","HCR":"SSHCR","year":2026,"F":0.250},
      {"stock":"MON","scen":"LO","HCR":"SSHCR","year":2027,"F":0.250},
      {"stock":"MON","scen":"LO","HCR":"SSHCR","year":2028,"F":0.250},
      {"stock":"MON","scen":"LO","HCR":"SSHCR","year":2029,"F":0.250},
      {"stock":"MON","scen":"LO","HCR":"SSHCR","year":2030,"F":0.250},
      {"stock":"MON","scen":"LO","HCR":"MSHCRmax","year":2014,"F":0.305},
      {"stock":"MON","scen":"LO","HCR":"MSHCRmax","year":2015,"F":0.303},
      {"stock":"MON","scen":"LO","HCR":"MSHCRmax","year":2016,"F":0.374},
      {"stock":"MON","scen":"LO","HCR":"MSHCRmax","year":2017,"F":0.231},
      {"stock":"MON","scen":"LO","HCR":"MSHCRmax","year":2018,"F":0.511},
      {"stock":"MON","scen":"LO","HCR":"MSHCRmax","year":2019,"F":0.450},
      {"stock":"MON","scen":"LO","HCR":"MSHCRmax","year":2020,"F":0.356},
      {"stock":"MON","scen":"LO","HCR":"MSHCRmax","year":2021,"F":0.340},
      {"stock":"MON","scen":"LO","HCR":"MSHCRmax","year":2022,"F":0.382},
      {"stock":"MON","scen":"LO","HCR":"MSHCRmax","year":2023,"F":0.403},
      {"stock":"MON","scen":"LO","HCR":"MSHCRmax","year":2024,"F":0.397},
      {"stock":"MON","scen":"LO","HCR":"MSHCRmax","year":2025,"F":0.386},
      {"stock":"MON","scen":"LO","HCR":"MSHCRmax","year":2026,"F":0.383},
      {"stock":"MON","scen":"LO","HCR":"MSHCRmax","year":2027,"F":0.386},
      {"stock":"MON","scen":"LO","HCR":"MSHCRmax","year":2028,"F":0.386},
      {"stock":"MON","scen":"LO","HCR":"MSHCRmax","year":2029,"F":0.386},
      {"stock":"MON","scen":"LO","HCR":"MSHCRmax","year":2030,"F":0.386},
      {"stock":"MON","scen":"LO","HCR":"MSHCRmean","year":2014,"F":0.305},
      {"stock":"MON","scen":"LO","HCR":"MSHCRmean","year":2015,"F":0.303},
      {"stock":"MON","scen":"LO","HCR":"MSHCRmean","year":2016,"F":0.374},
      {"stock":"MON","scen":"LO","HCR":"MSHCRmean","year":2017,"F":0.231},
      {"stock":"MON","scen":"LO","HCR":"MSHCRmean","year":2018,"F":0.511},
      {"stock":"MON","scen":"LO","HCR":"MSHCRmean","year":2019,"F":0.416},
      {"stock":"MON","scen":"LO","HCR":"MSHCRmean","year":2020,"F":0.283},
      {"stock":"MON","scen":"LO","HCR":"MSHCRmean","year":2021,"F":0.295},
      {"stock":"MON","scen":"LO","HCR":"MSHCRmean","year":2022,"F":0.347},
      {"stock":"MON","scen":"LO","HCR":"MSHCRmean","year":2023,"F":0.360},
      {"stock":"MON","scen":"LO","HCR":"MSHCRmean","year":2024,"F":0.347},
      {"stock":"MON","scen":"LO","HCR":"MSHCRmean","year":2025,"F":0.338},
      {"stock":"MON","scen":"LO","HCR":"MSHCRmean","year":2026,"F":0.340},
      {"stock":"MON","scen":"LO","HCR":"MSHCRmean","year":2027,"F":0.341},
      {"stock":"MON","scen":"LO","HCR":"MSHCRmean","year":2028,"F":0.341},
      {"stock":"MON","scen":"LO","HCR":"MSHCRmean","year":2029,"F":0.341},
      {"stock":"MON","scen":"LO","HCR":"MSHCRmean","year":2030,"F":0.341},
      {"stock":"MON","scen":"LO","HCR":"MSHCRmin","year":2014,"F":0.305},
      {"stock":"MON","scen":"LO","HCR":"MSHCRmin","year":2015,"F":0.303},
      {"stock":"MON","scen":"LO","HCR":"MSHCRmin","year":2016,"F":0.374},
      {"stock":"MON","scen":"LO","HCR":"MSHCRmin","year":2017,"F":0.231},
      {"stock":"MON","scen":"LO","HCR":"MSHCRmin","year":2018,"F":0.511},
      {"stock":"MON","scen":"LO","HCR":"MSHCRmin","year":2019,"F":0.373},
      {"stock":"MON","scen":"LO","HCR":"MSHCRmin","year":2020,"F":0.227},
      {"stock":"MON","scen":"LO","HCR":"MSHCRmin","year":2021,"F":0.265},
      {"stock":"MON","scen":"LO","HCR":"MSHCRmin","year":2022,"F":0.326},
      {"stock":"MON","scen":"LO","HCR":"MSHCRmin","year":2023,"F":0.332},
      {"stock":"MON","scen":"LO","HCR":"MSHCRmin","year":2024,"F":0.314},
      {"stock":"MON","scen":"LO","HCR":"MSHCRmin","year":2025,"F":0.311},
      {"stock":"MON","scen":"LO","HCR":"MSHCRmin","year":2026,"F":0.313},
      {"stock":"MON","scen":"LO","HCR":"MSHCRmin","year":2027,"F":0.314},
      {"stock":"MON","scen":"LO","HCR":"MSHCRmin","year":2028,"F":0.314},
      {"stock":"MON","scen":"LO","HCR":"MSHCRmin","year":2029,"F":0.314},
      {"stock":"MON","scen":"LO","HCR":"MSHCRmin","year":2030,"F":0.314}
    ]
  },
  "columns": 6,
  "spacing": {"row": 1, "column": 1},
  "bounds": "flush",
  "align": "each",
  "concat": [
    {"width": 237, "height": 35, "view": {"fill": "#D9D9D9", "stroke": null},
     "data": {"values": [{"stock": "HKE"}]},
     "mark": {"type": "text", "fontSize": 15.3, "color": "#1A1A1A", "align": "center", "baseline": "middle"},
     "encoding": {"text": {"field": "stock"}}},
    {"width": 9.5, "height": 1, "data": {"values": []}, "mark": "point"},
    {"width": 237, "height": 35, "view": {"fill": "#D9D9D9", "stroke": null},
     "data": {"values": [{"stock": "MEG"}]},
     "mark": {"type": "text", "fontSize": 15.3, "color": "#1A1A1A", "align": "center", "baseline": "middle"},
     "encoding": {"text": {"field": "stock"}}},
    {"width": 9.5, "height": 1, "data": {"values": []}, "mark": "point"},
    {"width": 237, "height": 35, "view": {"fill": "#D9D9D9", "stroke": null},
     "data": {"values": [{"stock": "MON"}]},
     "mark": {"type": "text", "fontSize": 15.3, "color": "#1A1A1A", "align": "center", "baseline": "middle"},
     "encoding": {"text": {"field": "stock"}}},
    {"width": 1, "height": 1, "data": {"values": []}, "mark": "point"},

    {"width": 237, "height": 247, "view": {"fill": "#EBEBEB", "stroke": null},
     "layer": [
      {"data": {"name": "series"},
       "transform": [{"filter": "datum.stock === 'HKE' && datum.scen === 'BaU'"}],
       "mark": {"type": "line", "strokeWidth": 4.6, "strokeCap": "butt", "strokeJoin": "round"},
       "encoding": {
        "x": {"field": "year", "type": "quantitative", "scale": {"domain": [2013.2, 2030.8], "nice": false, "zero": false},
              "axis": {"values": [2015, 2017.5, 2020, 2022.5, 2025, 2027.5, 2030], "labels": false, "ticks": false, "domain": false, "title": null, "gridColor": "#FFFFFF",
                       "gridWidth": {"condition": {"test": "datum.value % 5 === 0", "value": 2.2}, "value": 1.1}}},
        "y": {"field": "F", "type": "quantitative", "scale": {"domain": [-0.0285, 0.6105], "nice": false, "zero": false},
              "axis": {"values": [0, 0.1, 0.2, 0.3, 0.4, 0.5, 0.6], "format": ".1f", "domain": false, "title": null,
                       "labelExpr": "round(datum.value * 10) % 2 === 0 ? datum.label : ''",
                       "labelColor": "#4D4D4D", "labelFontSize": 15.3, "labelPadding": 4,
                       "tickColor": "#333333", "tickSize": 4.8, "tickWidth": 1.1,
                       "tickOpacity": {"condition": {"test": "round(datum.value * 10) % 2 === 0", "value": 1}, "value": 0},
                       "gridColor": "#FFFFFF",
                       "gridWidth": {"condition": {"test": "round(datum.value * 10) % 2 === 0", "value": 2.2}, "value": 1.1}}},
        "color": {"field": "HCR", "type": "nominal",
                  "scale": {"domain": ["SSHCR", "MSHCRmax", "MSHCRmean", "MSHCRmin"], "range": ["#000000", "#E69F00", "#56B4E9", "#009E73"]},
                  "legend": {"title": "HCR", "orient": "none", "legendX": 802, "legendY": 120, "rowPadding": 8.7, "symbolType": "stroke", "symbolStrokeWidth": 4.6, "symbolSize": 841}}
       }},
      {"data": {"name": "refs"},
       "transform": [{"filter": "datum.stock === 'HKE'"}],
       "mark": {"type": "rule", "color": "black", "strokeWidth": 1.8},
       "encoding": {
        "y": {"field": "F", "type": "quantitative", "scale": {"domain": [-0.0285, 0.6105], "nice": false, "zero": false}},
        "strokeDash": {"field": "indicator", "type": "nominal",
                       "scale": {"domain": ["Fmsy", "Flow", "Fupp"], "range": [[1, 0], [2.2, 3.8], [6.5, 4.5]]},
                       "legend": {"title": "indicator", "orient": "none", "legendX": 802, "legendY": 328, "rowPadding": 11, "titlePadding": 14, "symbolType": "stroke", "symbolStrokeWidth": 1.8, "symbolStrokeColor": "black", "symbolSize": 841}}
       }}
     ]},
    {"width": 9.5, "height": 1, "data": {"values": []}, "mark": "point"},
    {"width": 237, "height": 247, "view": {"fill": "#EBEBEB", "stroke": null},
     "layer": [
      {"data": {"name": "series"},
       "transform": [{"filter": "datum.stock === 'MEG' && datum.scen === 'BaU'"}],
       "mark": {"type": "line", "strokeWidth": 4.6, "strokeCap": "butt", "strokeJoin": "round"},
       "encoding": {
        "x": {"field": "year", "type": "quantitative", "scale": {"domain": [2013.2, 2030.8], "nice": false, "zero": false},
              "axis": {"values": [2015, 2017.5, 2020, 2022.5, 2025, 2027.5, 2030], "labels": false, "ticks": false, "domain": false, "title": null, "gridColor": "#FFFFFF",
                       "gridWidth": {"condition": {"test": "datum.value % 5 === 0", "value": 2.2}, "value": 1.1}}},
        "y": {"field": "F", "type": "quantitative", "scale": {"domain": [-0.0285, 0.6105], "nice": false, "zero": false},
              "axis": {"values": [0, 0.1, 0.2, 0.3, 0.4, 0.5, 0.6], "labels": false, "ticks": false, "domain": false, "title": null, "gridColor": "#FFFFFF",
                       "gridWidth": {"condition": {"test": "round(datum.value * 10) % 2 === 0", "value": 2.2}, "value": 1.1}}},
        "color": {"field": "HCR", "type": "nominal",
                  "scale": {"domain": ["SSHCR", "MSHCRmax", "MSHCRmean", "MSHCRmin"], "range": ["#000000", "#E69F00", "#56B4E9", "#009E73"]},
                  "legend": {"title": "HCR", "orient": "none", "legendX": 802, "legendY": 120, "rowPadding": 8.7, "symbolType": "stroke", "symbolStrokeWidth": 4.6, "symbolSize": 841}}
       }},
      {"data": {"name": "refs"},
       "transform": [{"filter": "datum.stock === 'MEG'"}],
       "mark": {"type": "rule", "color": "black", "strokeWidth": 1.8},
       "encoding": {
        "y": {"field": "F", "type": "quantitative", "scale": {"domain": [-0.0285, 0.6105], "nice": false, "zero": false}},
        "strokeDash": {"field": "indicator", "type": "nominal",
                       "scale": {"domain": ["Fmsy", "Flow", "Fupp"], "range": [[1, 0], [2.2, 3.8], [6.5, 4.5]]},
                       "legend": {"title": "indicator", "orient": "none", "legendX": 802, "legendY": 328, "rowPadding": 11, "titlePadding": 14, "symbolType": "stroke", "symbolStrokeWidth": 1.8, "symbolStrokeColor": "black", "symbolSize": 841}}
       }}
     ]},
    {"width": 9.5, "height": 1, "data": {"values": []}, "mark": "point"},
    {"width": 237, "height": 247, "view": {"fill": "#EBEBEB", "stroke": null},
     "layer": [
      {"data": {"name": "series"},
       "transform": [{"filter": "datum.stock === 'MON' && datum.scen === 'BaU'"}],
       "mark": {"type": "line", "strokeWidth": 4.6, "strokeCap": "butt", "strokeJoin": "round"},
       "encoding": {
        "x": {"field": "year", "type": "quantitative", "scale": {"domain": [2013.2, 2030.8], "nice": false, "zero": false},
              "axis": {"values": [2015, 2017.5, 2020, 2022.5, 2025, 2027.5, 2030], "labels": false, "ticks": false, "domain": false, "title": null, "gridColor": "#FFFFFF",
                       "gridWidth": {"condition": {"test": "datum.value % 5 === 0", "value": 2.2}, "value": 1.1}}},
        "y": {"field": "F", "type": "quantitative", "scale": {"domain": [-0.0285, 0.6105], "nice": false, "zero": false},
              "axis": {"values": [0, 0.1, 0.2, 0.3, 0.4, 0.5, 0.6], "labels": false, "ticks": false, "domain": false, "title": null, "gridColor": "#FFFFFF",
                       "gridWidth": {"condition": {"test": "round(datum.value * 10) % 2 === 0", "value": 2.2}, "value": 1.1}}},
        "color": {"field": "HCR", "type": "nominal",
                  "scale": {"domain": ["SSHCR", "MSHCRmax", "MSHCRmean", "MSHCRmin"], "range": ["#000000", "#E69F00", "#56B4E9", "#009E73"]},
                  "legend": {"title": "HCR", "orient": "none", "legendX": 802, "legendY": 120, "rowPadding": 8.7, "symbolType": "stroke", "symbolStrokeWidth": 4.6, "symbolSize": 841}}
       }},
      {"data": {"name": "refs"},
       "transform": [{"filter": "datum.stock === 'MON'"}],
       "mark": {"type": "rule", "color": "black", "strokeWidth": 1.8},
       "encoding": {
        "y": {"field": "F", "type": "quantitative", "scale": {"domain": [-0.0285, 0.6105], "nice": false, "zero": false}},
        "strokeDash": {"field": "indicator", "type": "nominal",
                       "scale": {"domain": ["Fmsy", "Flow", "Fupp"], "range": [[1, 0], [2.2, 3.8], [6.5, 4.5]]},
                       "legend": {"title": "indicator", "orient": "none", "legendX": 802, "legendY": 328, "rowPadding": 11, "titlePadding": 14, "symbolType": "stroke", "symbolStrokeWidth": 1.8, "symbolStrokeColor": "black", "symbolSize": 841}}
       }}
     ]},
    {"width": 34, "height": 247, "view": {"fill": "#D9D9D9", "stroke": null},
     "data": {"values": [{"scen": "BaU"}]},
     "mark": {"type": "text", "fontSize": 15.3, "color": "#1A1A1A", "align": "center", "baseline": "middle", "angle": 90},
     "encoding": {"text": {"field": "scen"}}},

    {"width": 1, "height": 10, "data": {"values": []}, "mark": "point"},
    {"width": 9.5, "height": 10, "data": {"values": []}, "mark": "point"},
    {"width": 1, "height": 10, "data": {"values": []}, "mark": "point"},
    {"width": 9.5, "height": 10, "data": {"values": []}, "mark": "point"},
    {"width": 1, "height": 10, "data": {"values": []}, "mark": "point"},
    {"width": 1, "height": 10, "data": {"values": []}, "mark": "point"},

    {"width": 237, "height": 247, "view": {"fill": "#EBEBEB", "stroke": null},
     "layer": [
      {"data": {"name": "series"},
       "transform": [{"filter": "datum.stock === 'HKE' && datum.scen === 'LO'"}],
       "mark": {"type": "line", "strokeWidth": 4.6, "strokeCap": "butt", "strokeJoin": "round"},
       "encoding": {
        "x": {"field": "year", "type": "quantitative", "scale": {"domain": [2013.2, 2030.8], "nice": false, "zero": false},
              "axis": {"values": [2015, 2017.5, 2020, 2022.5, 2025, 2027.5, 2030], "format": "d", "domain": false, "title": null,
                       "labelExpr": "datum.value % 5 === 0 ? datum.label : ''", "labelFlush": false,
                       "labelColor": "#4D4D4D", "labelFontSize": 15.3, "labelPadding": 3,
                       "tickColor": "#333333", "tickSize": 4.8, "tickWidth": 1.1,
                       "tickOpacity": {"condition": {"test": "datum.value % 5 === 0", "value": 1}, "value": 0},
                       "gridColor": "#FFFFFF",
                       "gridWidth": {"condition": {"test": "datum.value % 5 === 0", "value": 2.2}, "value": 1.1}}},
        "y": {"field": "F", "type": "quantitative", "scale": {"domain": [-0.0285, 0.6105], "nice": false, "zero": false},
              "axis": {"values": [0, 0.1, 0.2, 0.3, 0.4, 0.5, 0.6], "format": ".1f", "domain": false,
                       "title": "F", "titleFontSize": 19.5, "titleFontWeight": "normal", "titleColor": "black", "titleY": -6, "titlePadding": 6,
                       "labelExpr": "round(datum.value * 10) % 2 === 0 ? datum.label : ''",
                       "labelColor": "#4D4D4D", "labelFontSize": 15.3, "labelPadding": 4,
                       "tickColor": "#333333", "tickSize": 4.8, "tickWidth": 1.1,
                       "tickOpacity": {"condition": {"test": "round(datum.value * 10) % 2 === 0", "value": 1}, "value": 0},
                       "gridColor": "#FFFFFF",
                       "gridWidth": {"condition": {"test": "round(datum.value * 10) % 2 === 0", "value": 2.2}, "value": 1.1}}},
        "color": {"field": "HCR", "type": "nominal",
                  "scale": {"domain": ["SSHCR", "MSHCRmax", "MSHCRmean", "MSHCRmin"], "range": ["#000000", "#E69F00", "#56B4E9", "#009E73"]},
                  "legend": {"title": "HCR", "orient": "none", "legendX": 802, "legendY": 120, "rowPadding": 8.7, "symbolType": "stroke", "symbolStrokeWidth": 4.6, "symbolSize": 841}}
       }},
      {"data": {"name": "refs"},
       "transform": [{"filter": "datum.stock === 'HKE'"}],
       "mark": {"type": "rule", "color": "black", "strokeWidth": 1.8},
       "encoding": {
        "y": {"field": "F", "type": "quantitative", "scale": {"domain": [-0.0285, 0.6105], "nice": false, "zero": false}},
        "strokeDash": {"field": "indicator", "type": "nominal",
                       "scale": {"domain": ["Fmsy", "Flow", "Fupp"], "range": [[1, 0], [2.2, 3.8], [6.5, 4.5]]},
                       "legend": {"title": "indicator", "orient": "none", "legendX": 802, "legendY": 328, "rowPadding": 11, "titlePadding": 14, "symbolType": "stroke", "symbolStrokeWidth": 1.8, "symbolStrokeColor": "black", "symbolSize": 841}}
       }}
     ]},
    {"width": 9.5, "height": 1, "data": {"values": []}, "mark": "point"},
    {"width": 237, "height": 247, "view": {"fill": "#EBEBEB", "stroke": null},
     "layer": [
      {"data": {"name": "series"},
       "transform": [{"filter": "datum.stock === 'MEG' && datum.scen === 'LO'"}],
       "mark": {"type": "line", "strokeWidth": 4.6, "strokeCap": "butt", "strokeJoin": "round"},
       "encoding": {
        "x": {"field": "year", "type": "quantitative", "scale": {"domain": [2013.2, 2030.8], "nice": false, "zero": false},
              "axis": {"values": [2015, 2017.5, 2020, 2022.5, 2025, 2027.5, 2030], "format": "d", "domain": false, "title": null,
                       "labelExpr": "datum.value % 5 === 0 ? datum.label : ''", "labelFlush": false,
                       "labelColor": "#4D4D4D", "labelFontSize": 15.3, "labelPadding": 3,
                       "tickColor": "#333333", "tickSize": 4.8, "tickWidth": 1.1,
                       "tickOpacity": {"condition": {"test": "datum.value % 5 === 0", "value": 1}, "value": 0},
                       "gridColor": "#FFFFFF",
                       "gridWidth": {"condition": {"test": "datum.value % 5 === 0", "value": 2.2}, "value": 1.1}}},
        "y": {"field": "F", "type": "quantitative", "scale": {"domain": [-0.0285, 0.6105], "nice": false, "zero": false},
              "axis": {"values": [0, 0.1, 0.2, 0.3, 0.4, 0.5, 0.6], "labels": false, "ticks": false, "domain": false, "title": null, "gridColor": "#FFFFFF",
                       "gridWidth": {"condition": {"test": "round(datum.value * 10) % 2 === 0", "value": 2.2}, "value": 1.1}}},
        "color": {"field": "HCR", "type": "nominal",
                  "scale": {"domain": ["SSHCR", "MSHCRmax", "MSHCRmean", "MSHCRmin"], "range": ["#000000", "#E69F00", "#56B4E9", "#009E73"]},
                  "legend": {"title": "HCR", "orient": "none", "legendX": 802, "legendY": 120, "rowPadding": 8.7, "symbolType": "stroke", "symbolStrokeWidth": 4.6, "symbolSize": 841}}
       }},
      {"data": {"name": "refs"},
       "transform": [{"filter": "datum.stock === 'MEG'"}],
       "mark": {"type": "rule", "color": "black", "strokeWidth": 1.8},
       "encoding": {
        "y": {"field": "F", "type": "quantitative", "scale": {"domain": [-0.0285, 0.6105], "nice": false, "zero": false}},
        "strokeDash": {"field": "indicator", "type": "nominal",
                       "scale": {"domain": ["Fmsy", "Flow", "Fupp"], "range": [[1, 0], [2.2, 3.8], [6.5, 4.5]]},
                       "legend": {"title": "indicator", "orient": "none", "legendX": 802, "legendY": 328, "rowPadding": 11, "titlePadding": 14, "symbolType": "stroke", "symbolStrokeWidth": 1.8, "symbolStrokeColor": "black", "symbolSize": 841}}
       }}
     ]},
    {"width": 9.5, "height": 1, "data": {"values": []}, "mark": "point"},
    {"width": 237, "height": 247, "view": {"fill": "#EBEBEB", "stroke": null},
     "layer": [
      {"data": {"name": "series"},
       "transform": [{"filter": "datum.stock === 'MON' && datum.scen === 'LO'"}],
       "mark": {"type": "line", "strokeWidth": 4.6, "strokeCap": "butt", "strokeJoin": "round"},
       "encoding": {
        "x": {"field": "year", "type": "quantitative", "scale": {"domain": [2013.2, 2030.8], "nice": false, "zero": false},
              "axis": {"values": [2015, 2017.5, 2020, 2022.5, 2025, 2027.5, 2030], "format": "d", "domain": false, "title": null,
                       "labelExpr": "datum.value % 5 === 0 ? datum.label : ''", "labelFlush": false,
                       "labelColor": "#4D4D4D", "labelFontSize": 15.3, "labelPadding": 3,
                       "tickColor": "#333333", "tickSize": 4.8, "tickWidth": 1.1,
                       "tickOpacity": {"condition": {"test": "datum.value % 5 === 0", "value": 1}, "value": 0},
                       "gridColor": "#FFFFFF",
                       "gridWidth": {"condition": {"test": "datum.value % 5 === 0", "value": 2.2}, "value": 1.1}}},
        "y": {"field": "F", "type": "quantitative", "scale": {"domain": [-0.0285, 0.6105], "nice": false, "zero": false},
              "axis": {"values": [0, 0.1, 0.2, 0.3, 0.4, 0.5, 0.6], "labels": false, "ticks": false, "domain": false, "title": null, "gridColor": "#FFFFFF",
                       "gridWidth": {"condition": {"test": "round(datum.value * 10) % 2 === 0", "value": 2.2}, "value": 1.1}}},
        "color": {"field": "HCR", "type": "nominal",
                  "scale": {"domain": ["SSHCR", "MSHCRmax", "MSHCRmean", "MSHCRmin"], "range": ["#000000", "#E69F00", "#56B4E9", "#009E73"]},
                  "legend": {"title": "HCR", "orient": "none", "legendX": 802, "legendY": 120, "rowPadding": 8.7, "symbolType": "stroke", "symbolStrokeWidth": 4.6, "symbolSize": 841}}
       }},
      {"data": {"name": "refs"},
       "transform": [{"filter": "datum.stock === 'MON'"}],
       "mark": {"type": "rule", "color": "black", "strokeWidth": 1.8},
       "encoding": {
        "y": {"field": "F", "type": "quantitative", "scale": {"domain": [-0.0285, 0.6105], "nice": false, "zero": false}},
        "strokeDash": {"field": "indicator", "type": "nominal",
                       "scale": {"domain": ["Fmsy", "Flow", "Fupp"], "range": [[1, 0], [2.2, 3.8], [6.5, 4.5]]},
                       "legend": {"title": "indicator", "orient": "none", "legendX": 802, "legendY": 328, "rowPadding": 11, "titlePadding": 14, "symbolType": "stroke", "symbolStrokeWidth": 1.8, "symbolStrokeColor": "black", "symbolSize": 841}}
       }}
     ]},
    {"width": 34, "height": 247, "view": {"fill": "#D9D9D9", "stroke": null},
     "data": {"values": [{"scen": "LO"}]},
     "mark": {"type": "text", "fontSize": 15.3, "color": "#1A1A1A", "align": "center", "baseline": "middle", "angle": 90},
     "encoding": {"text": {"field": "scen"}}}
  ]
}
